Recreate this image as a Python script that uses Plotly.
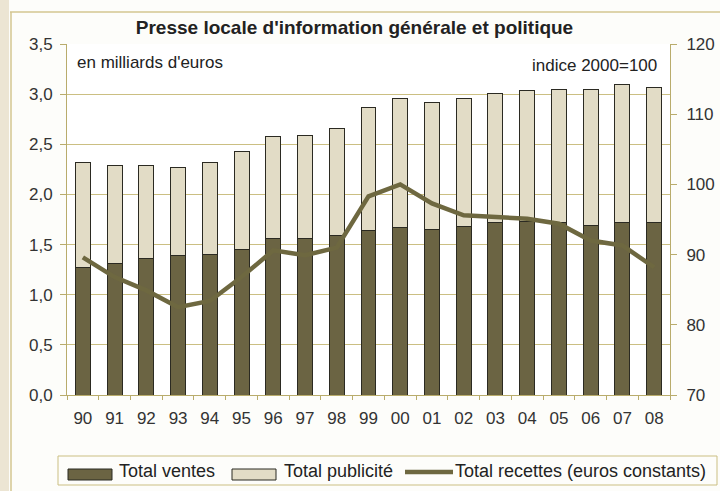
import plotly.graph_objects as go

annees = ["90", "91", "92", "93", "94", "95", "96", "97", "98", "99",
          "00", "01", "02", "03", "04", "05", "06", "07", "08"]
total_ventes = [1.27, 1.31, 1.36, 1.39, 1.40, 1.45, 1.56, 1.56, 1.59, 1.64,
                1.67, 1.65, 1.68, 1.72, 1.73, 1.72, 1.69, 1.72, 1.72]
total_publicite = [1.05, 0.98, 0.93, 0.88, 0.92, 0.98, 1.02, 1.03, 1.07, 1.23,
                   1.29, 1.27, 1.28, 1.29, 1.31, 1.33, 1.36, 1.38, 1.35]
total_recettes = [89.6, 86.8, 84.9, 82.5, 83.4, 86.8, 90.6, 89.9, 91.0, 98.3,
                  100.0, 97.3, 95.6, 95.4, 95.1, 94.4, 92.0, 91.3, 88.2]
left_ticks = [0.0, 0.5, 1.0, 1.5, 2.0, 2.5, 3.0, 3.5]
right_ticks = [70, 80, 90, 100, 110, 120]

DARK = "#6b6443"
LIGHT = "#e2dcc6"
LINE = "#6e6840"
GRID = "#cbbf82"
AXIS = "#b9ac6c"
FRAME = "#d3c690"
TXT = "#222222"
FONT = "Liberation Sans, Arial, sans-serif"

W, H = 720, 491
L, R, T, B = 67, 50, 44, 96
PW, PH = W - L - R, H - T - B


def px(x):
    return (x - L) / PW


def py(y):
    return (H - B - y) / PH


fig = go.Figure()
fig.add_trace(go.Bar(x=annees, y=total_ventes, name="Total ventes",
                     marker=dict(color=DARK, line=dict(color="#2b2a22", width=1)),
                     width=0.47, showlegend=False))
fig.add_trace(go.Bar(x=annees, y=total_publicite, name="Total publicité",
                     marker=dict(color=LIGHT, line=dict(color="#2b2a22", width=1)),
                     width=0.47, showlegend=False))
fig.add_trace(go.Scatter(x=annees, y=total_recettes, name="Total recettes (euros constants)",
                         mode="lines", line=dict(color=LINE, width=4.5),
                         yaxis="y2", showlegend=False))

fig.update_layout(
    width=W, height=H,
    barmode="stack",
    separators=", ",
    paper_bgcolor="#fdfdfa",
    plot_bgcolor="white",
    margin=dict(l=L, r=R, t=T, b=B, autoexpand=False),
    font=dict(family=FONT, size=17, color=TXT),
    title=dict(text="<b>Presse locale d'information générale et politique</b>",
               xref="container", x=354.5 / W, xanchor="center",
               yref="container", y=1 - 27 / H, yanchor="middle",
               font=dict(size=19, color=TXT)),
    xaxis=dict(type="category", range=[-0.5, 18.5], showgrid=False,
               showline=True, linecolor=AXIS, linewidth=1,
               ticks="outside", ticklen=4, tickcolor=AXIS, tickson="boundaries",
               ticklabelstandoff=8,
               tickfont=dict(size=17, color="#333")),
    yaxis=dict(range=[0, 3.5], tickvals=left_ticks, tickformat=".1f",
               showgrid=True, gridcolor=GRID, gridwidth=1, zeroline=False,
               showline=True, linecolor=AXIS, linewidth=1,
               ticks="outside", ticklen=6, tickcolor=AXIS,
               ticklabelstandoff=4,
               tickfont=dict(size=17, color="#333")),
    yaxis2=dict(range=[70, 120], tickvals=right_ticks, overlaying="y", side="right",
                showgrid=False, zeroline=False,
                showline=True, linecolor=AXIS, linewidth=1,
                ticks="outside", ticklen=6, tickcolor=AXIS,
                ticklabelstandoff=6,
                tickfont=dict(size=17, color="#333")),
    shapes=[
        # outer frame
        dict(type="rect", xref="paper", yref="paper", x0=px(0), x1=px(9),
             y0=py(H), y1=py(0), fillcolor="#ece5d3",
             line=dict(width=0), layer="below"),
        dict(type="line", xref="paper", yref="paper", x0=px(10), x1=px(W),
             y0=py(12), y1=py(12), line=dict(color=FRAME, width=1.5)),
        dict(type="line", xref="paper", yref="paper", x0=px(11), x1=px(11),
             y0=py(12), y1=py(H), line=dict(color=FRAME, width=1.5)),
        # legend box
        dict(type="rect", xref="paper", yref="paper", x0=px(58), x1=px(717),
             y0=py(485), y1=py(456), line=dict(color=GRID, width=1),
             fillcolor="rgba(0,0,0,0)"),
        dict(type="rect", xref="paper", yref="paper", x0=px(68), x1=px(112),
             y0=py(480), y1=py(469), fillcolor=DARK,
             line=dict(color="#2b2a22", width=1)),
        dict(type="rect", xref="paper", yref="paper", x0=px(232), x1=px(276),
             y0=py(480), y1=py(469), fillcolor=LIGHT,
             line=dict(color="#2b2a22", width=1)),
        dict(type="line", xref="paper", yref="paper", x0=px(405), x1=px(453),
             y0=py(472), y1=py(472), line=dict(color=LINE, width=4.5)),
    ],
    annotations=[
        dict(text="en milliards d'euros", xref="paper", yref="paper",
             x=px(75), y=py(62), xanchor="left", yanchor="middle",
             showarrow=False, font=dict(size=17, color=TXT)),
        dict(text="indice 2000=100", xref="paper", yref="paper",
             x=px(659), y=py(65), xanchor="right", yanchor="middle",
             showarrow=False, font=dict(size=17, color=TXT)),
        dict(text="Total ventes", xref="paper", yref="paper",
             x=px(117), y=py(471), xanchor="left", yanchor="middle",
             showarrow=False, font=dict(size=18, color=TXT)),
        dict(text="Total publicité", xref="paper", yref="paper",
             x=px(282), y=py(471), xanchor="left", yanchor="middle",
             showarrow=False, font=dict(size=18, color=TXT)),
        dict(text="Total recettes (euros constants)", xref="paper", yref="paper",
             x=px(453), y=py(471), xanchor="left", yanchor="middle",
             showarrow=False, font=dict(size=18, color=TXT)),
    ],
)

fig.write_html("out.html", config={"displayModeBar": False},
               post_script="document.body.style.margin='0';document.body.style.padding='0';")
